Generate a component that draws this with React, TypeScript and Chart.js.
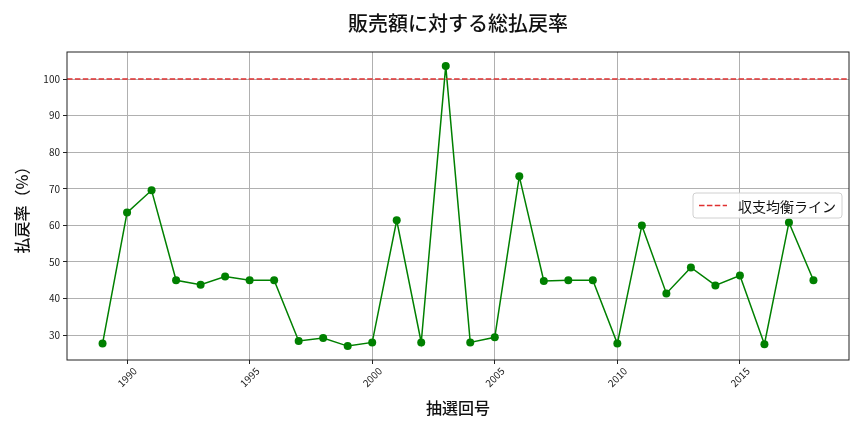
import { useRef, useEffect } from 'react';
import { Chart, registerables } from 'chart.js';

Chart.register(...registerables);

const FONT = '"Noto Sans CJK JP", "Noto Sans", sans-serif';

// draw values
const years = [
  1989, 1990, 1991, 1992, 1993, 1994, 1995, 1996, 1997, 1998,
  1999, 2000, 2001, 2002, 2003, 2004, 2005, 2006, 2007, 2008,
  2009, 2010, 2011, 2012, 2013, 2014, 2015, 2016, 2017, 2018,
];
const payoutRates = [
  27.7, 63.5, 69.6, 45.0, 43.8, 46.0, 45.0, 45.0, 28.4, 29.2,
  27.0, 28.0, 61.4, 28.0, 103.6, 28.0, 29.4, 73.4, 44.8, 45.0,
  45.0, 27.7, 60.0, 41.4, 48.5, 43.6, 46.3, 27.5, 60.8, 45.0,
];
const breakEven = 100;
const xRange = [1987.55, 2019.45];
const yRange = [23.2, 107.4];
const xTicks = [1990, 1995, 2000, 2005, 2010, 2015];
const yTicks = [30, 40, 50, 60, 70, 80, 90, 100];

const titleText = '販売額に対する総払戻率';
const xLabel = '抽選回号';
const yLabel = '払戻率（%）';
const legendLabel = '収支均衡ライン';

// frame, title over the plot area, legend in the right middle
const framePlugin = {
  id: 'frame',
  afterDraw(chart: any) {
    const { ctx, chartArea } = chart;
    ctx.save();
    ctx.strokeStyle = '#222';
    ctx.lineWidth = 1;
    ctx.strokeRect(chartArea.left, chartArea.top, chartArea.right - chartArea.left, chartArea.bottom - chartArea.top);

    ctx.fillStyle = '#111';
    ctx.font = `500 20px ${FONT}`;
    ctx.textAlign = 'center';
    ctx.textBaseline = 'middle';
    ctx.fillText(titleText, (chartArea.left + chartArea.right) / 2, 23);

    // legend box
    const w = 149, h = 25;
    const x = chartArea.right - 7 - w;
    const y = 193;
    ctx.fillStyle = 'rgba(255,255,255,0.85)';
    ctx.strokeStyle = '#d0d0d0';
    ctx.beginPath();
    ctx.roundRect(x, y, w, h, 3);
    ctx.fill();
    ctx.stroke();
    ctx.strokeStyle = '#e03030';
    ctx.lineWidth = 1.5;
    ctx.setLineDash([5.5, 2.4]);
    ctx.beginPath();
    ctx.moveTo(x + 6, y + h / 2);
    ctx.lineTo(x + 34, y + h / 2);
    ctx.stroke();
    ctx.setLineDash([]);
    ctx.fillStyle = '#111';
    ctx.font = `14px ${FONT}`;
    ctx.textAlign = 'left';
    ctx.fillText(legendLabel, x + 45, y + h / 2 + 1);
    ctx.restore();
  },
};

export default function App() {
  const canvasRef = useRef<HTMLCanvasElement>(null);
  const chartRef = useRef<Chart | null>(null);

  useEffect(() => {
    document.body.style.margin = '0';
    if (!canvasRef.current) return;
    if (chartRef.current) chartRef.current.destroy();
    const ctx = canvasRef.current.getContext('2d');
    if (!ctx) return;

    chartRef.current = new Chart(ctx, {
      type: 'line',
      data: {
        datasets: [
          {
            label: legendLabel,
            data: xRange.map((x) => ({ x, y: breakEven })),
            borderColor: '#e03030',
            borderWidth: 1.5,
            borderDash: [5.5, 2.4],
            pointRadius: 0,
          },
          {
            label: '払戻率',
            data: years.map((x, i) => ({ x, y: payoutRates[i] })),
            borderColor: '#008000',
            backgroundColor: '#008000',
            borderWidth: 1.5,
            pointRadius: 4,
            pointBorderWidth: 0,
          },
        ],
      },
      options: {
        responsive: false,
        animation: false,
        layout: { padding: { left: 0, right: 15, top: 52, bottom: 0 } },
        plugins: {
          legend: { display: false },
          tooltip: { enabled: false },
          title: { display: false },
        },
        scales: {
          x: {
            type: 'linear',
            min: xRange[0],
            max: xRange[1],
            afterBuildTicks: (scale: any) => {
              scale.ticks = xTicks.map((v) => ({ value: v }));
            },
            afterFit: (scale: any) => {
              scale.height = 72;
            },
            ticks: {
              color: '#222',
              font: { family: FONT, size: 10 },
              maxRotation: 45,
              minRotation: 45,
              padding: 1,
              labelOffset: 8,
              callback: (v: any) => String(v),
            },
            grid: { color: '#b0b0b0', tickLength: 4, tickColor: '#222' },
            border: { display: false },
            title: {
              display: true,
              text: xLabel,
              color: '#111',
              font: { family: FONT, size: 16, weight: 500 },
              padding: { top: 0, bottom: 14 },
            },
          },
          y: {
            type: 'linear',
            min: yRange[0],
            max: yRange[1],
            afterBuildTicks: (scale: any) => {
              scale.ticks = yTicks.map((v) => ({ value: v }));
            },
            afterFit: (scale: any) => {
              scale.width = 67;
            },
            ticks: {
              color: '#222',
              font: { family: FONT, size: 10 },
              padding: 3,
            },
            grid: { color: '#b0b0b0', tickLength: 4, tickColor: '#222' },
            border: { display: false },
            title: {
              display: true,
              text: yLabel,
              color: '#111',
              font: { family: FONT, size: 16, weight: 500 },
              padding: { top: 12, bottom: 0 },
            },
          },
        },
      },
      plugins: [framePlugin],
    } as any);

    return () => {
      if (chartRef.current) chartRef.current.destroy();
    };
  }, []);

  return (
    <div style={{ width: 864, height: 432, background: '#fff' }}>
      <canvas ref={canvasRef} width={864} height={432}></canvas>
    </div>
  );
}
